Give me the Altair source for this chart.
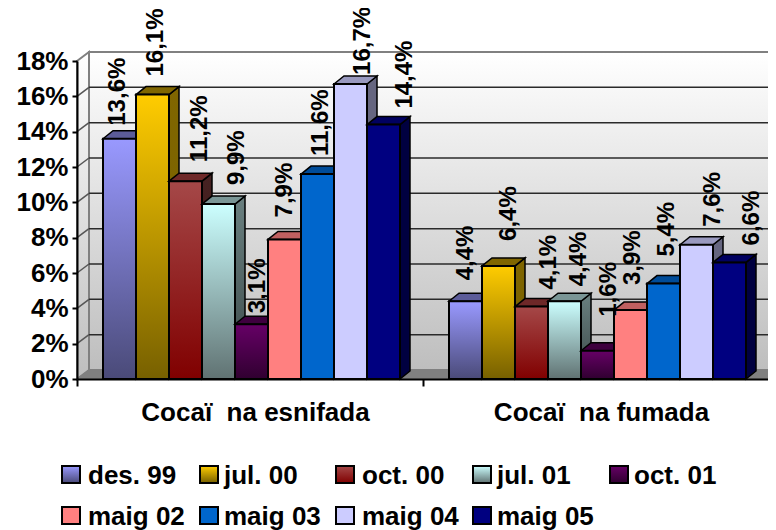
import altair as alt
import pandas as pd

categories = ["Cocaï\u00a0 na esnifada", "Cocaï\u00a0 na fumada"]
series = ["des. 99", "jul. 00", "oct. 00", "jul. 01", "oct. 01",
          "maig 02", "maig 03", "maig 04", "maig 05"]
esnifada = [13.6, 16.1, 11.2, 9.9, 3.1, 7.9, 11.6, 16.7, 14.4]
fumada = [4.4, 6.4, 4.1, 4.4, 1.6, 3.9, 5.4, 7.6, 6.6]
y_ticks = [0, 2, 4, 6, 8, 10, 12, 14, 16, 18]

# styling (top colour, bottom colour, side top, side bottom, top face)
styles = [
    ("#9999FF", "#4A4A78", "#4C4C80", "#25253C", "#5C5C99"),
    ("#FFCC00", "#776000", "#806600", "#776000", "#806600"),
    ("#A54848", "#800000", "#452222", "#401010", "#6E2828"),
    ("#CCFFFF", "#607272", "#6A8080", "#3A4848", "#7A9696"),
    ("#660066", "#300030", "#330033", "#180018", "#3E003E"),
    ("#FF8080", "#FF8080", "#804040", "#804040", "#C06060"),
    ("#0066CC", "#0066CC", "#003366", "#003366", "#004C99"),
    ("#CCCCFF", "#CCCCFF", "#666680", "#666680", "#9999BF"),
    ("#000080", "#000080", "#000040", "#000040", "#000060"),
]
label_dx = [[-2, 3, 14, 18, 6, 0, 3, 12, 21], [0, 10, 17, 14, 11, 2, 3, 16, 22]]
label_gap = [[13, 18, 19, 19, 11, 22, 18, 9, 16], [21, 25, 17, 15, 34, 25, 27, 18, 17]]

PLOT_W = 691
PXX, PXY = 346.0, 318.0 / 18.0
BAR_X0, BAR_W = 26 / PXX, 33 / PXX
BDX, BDY = 10 / PXX, 8 / PXY          # bar depth
WDX, WDY = 12 / PXX, 9 / PXY          # wall depth

xs = alt.Scale(domain=[0, PLOT_W / PXX], nice=False, zero=False)
ys = alt.Scale(domain=[0, 18], nice=False, zero=False)


def grad(top, bottom):
    return alt.Gradient(gradient="linear", x1=0, x2=0, y1=0, y2=1,
                        stops=[alt.GradientStop(color=top, offset=0),
                               alt.GradientStop(color=bottom, offset=1)])


def X(f="x"):
    return alt.X(f"{f}:Q", scale=xs, axis=None, title=None)


def Y(f="y"):
    return alt.Y(f"{f}:Q", scale=ys, axis=None, title=None)


def area(rows, **mark):
    df = pd.DataFrame(rows, columns=["x", "y", "y2"])
    return alt.Chart(df).mark_area(**mark).encode(x=X(), y=Y(), y2=alt.Y2("y2:Q"))


layers = []

# walls
layers.append(
    alt.Chart(pd.DataFrame({"x": [WDX], "x2": [2 + WDX], "y": [18 + WDY], "y2": [WDY]}))
    .mark_rect(fill=grad("#FFFFFF", "#BEBEBE"), stroke="#808080", strokeWidth=2)
    .encode(x=X(), x2="x2:Q", y=Y(), y2="y2:Q")
)
layers.append(area([(0, 18, 0), (WDX, 18 + WDY, WDY)], fill=grad("#FFFFFF", "#BEBEBE"),
                   stroke="#808080", strokeWidth=2))
# gridlines
grid = pd.DataFrame({"x": WDX, "x2": 2 + WDX,
                     "y": [v + WDY for v in y_ticks[1:-1]]})
layers.append(alt.Chart(grid).mark_rule(color="#2A2A2A", strokeWidth=1.5)
              .encode(x=X(), x2="x2:Q", y=Y()))
diag = pd.DataFrame({"x": 0.0, "x2": WDX, "y": y_ticks[1:-1],
                     "y2": [v + WDY for v in y_ticks[1:-1]]})
layers.append(alt.Chart(diag).mark_rule(color="#555555", strokeWidth=1.5)
              .encode(x=X(), x2="x2:Q", y=Y(), y2="y2:Q"))
# floor
layers.append(area([(0, 0, 0), (WDX, WDY, 0), (2, WDY, 0), (2 + WDX, WDY, WDY)],
                   fill="#808080", stroke="#808080", strokeWidth=1))

# bars, painted left to right
label_rows = []
for g, vals in enumerate([esnifada, fumada]):
    for j, v in enumerate(vals):
        x0 = g + BAR_X0 + j * BAR_W
        x1 = x0 + BAR_W
        st = styles[j]
        layers.append(area([(x1, v, 0), (x1 + BDX, v + BDY, BDY)],
                           fill=grad(st[2], st[3]), stroke="black", strokeWidth=1.5))
        layers.append(area([(x0, v, v), (x0 + BDX, v + BDY, v), (x1, v + BDY, v),
                            (x1 + BDX, v + BDY, v + BDY)],
                           fill=st[4], stroke="black", strokeWidth=1.5))
        layers.append(
            alt.Chart(pd.DataFrame({"x": [x0], "x2": [x1], "y": [v], "y2": [0.0]}))
            .mark_rect(fill=grad(st[0], st[1]), stroke="black", strokeWidth=2)
            .encode(x=X(), x2="x2:Q", y=Y(), y2="y2:Q")
        )
        label_rows.append({
            "x": (x0 + x1) / 2 + label_dx[g][j] / PXX,
            "y": v + label_gap[g][j] / PXY,
            "t": f"{v:.1f}%".replace(".", ","),
        })

layers.append(
    alt.Chart(pd.DataFrame(label_rows))
    .mark_text(angle=270, align="left", baseline="middle", font="Liberation Sans",
               fontSize=24, fontWeight="bold", color="black")
    .encode(x=X(), y=Y(), text="t:N")
)

# axes
base = pd.DataFrame({"x": [0, 1], "y": [0, 18]})
layers.append(
    alt.Chart(base).mark_point(opacity=0).encode(
        x=alt.X("x:Q", scale=xs, title=None,
                axis=alt.Axis(orient="bottom", values=[0, 1, 2], labels=False, grid=False,
                              tickSize=7, tickWidth=2, tickColor="black",
                              domainColor="black", domainWidth=2, zindex=1)),
        y=alt.Y("y:Q", scale=ys, title=None,
                axis=alt.Axis(orient="left", values=y_ticks, labelExpr="datum.value + '%'",
                              grid=False, tickSize=5, tickWidth=2, tickColor="black",
                              domainColor="black", domainWidth=2,
                              labelFont="Liberation Sans", labelFontSize=26,
                              labelFontWeight="bold", labelColor="black",
                              labelPadding=4, zindex=1)),
    )
)

# category labels as a second x axis
cat_df = pd.DataFrame({"x": [0.5, 1.5], "y": [0, 0]})
expr = f"datum.value < 1 ? '{categories[0]}' : '{categories[1]}'"
layers.append(
    alt.Chart(cat_df).mark_point(opacity=0).encode(
        x=alt.X("x:Q", scale=xs, title=None,
                axis=alt.Axis(orient="bottom", values=[0.5, 1.5], labelExpr=expr, ticks=False,
                              domain=False, grid=False, labelFont="Liberation Sans",
                              labelFontSize=26, labelFontWeight="bold", labelColor="black",
                              labelPadding=20, labelOffset=5, labelOverlap=False,
                              labelFlush=False, labelLimit=400)),
        y=Y(),
    )
)

# legend
one = pd.DataFrame({"a": [0]})
OX, OY = 77, 61
swatch_x = [62, 200, 336, 473, 610]
text_x = [88, 224, 362, 497, 634]
row_y = [475, 516]
for i, name in enumerate(series):
    r, c = divmod(i, 5)
    st = styles[i]
    sx, ty, cy = swatch_x[c], text_x[c], row_y[r]
    layers.append(
        alt.Chart(one).mark_rect(fill=grad(st[0], st[1]), stroke="black", strokeWidth=2)
        .encode(x=alt.value(sx - OX), x2=alt.value(sx + 18 - OX),
                y=alt.value(cy - 9 - OY), y2=alt.value(cy + 8 - OY))
    )
    layers.append(
        alt.Chart(one).mark_text(text=name, align="left", baseline="middle",
                                 font="Liberation Sans", fontSize=26, fontWeight="bold",
                                 color="black")
        .encode(x=alt.value(ty - OX), y=alt.value(cy + 1 - OY))
    )

chart = (
    alt.layer(*layers)
    .resolve_axis(x="independent", y="independent")
    .properties(width=PLOT_W, height=318, background="white",
                padding={"left": 69, "top": 53, "right": 0, "bottom": 151},
                autosize=alt.AutoSizeParams(type="none"))
    .configure_view(stroke=None)
)
chart.save("out.html", embed_options={"renderer": "svg", "actions": False})
